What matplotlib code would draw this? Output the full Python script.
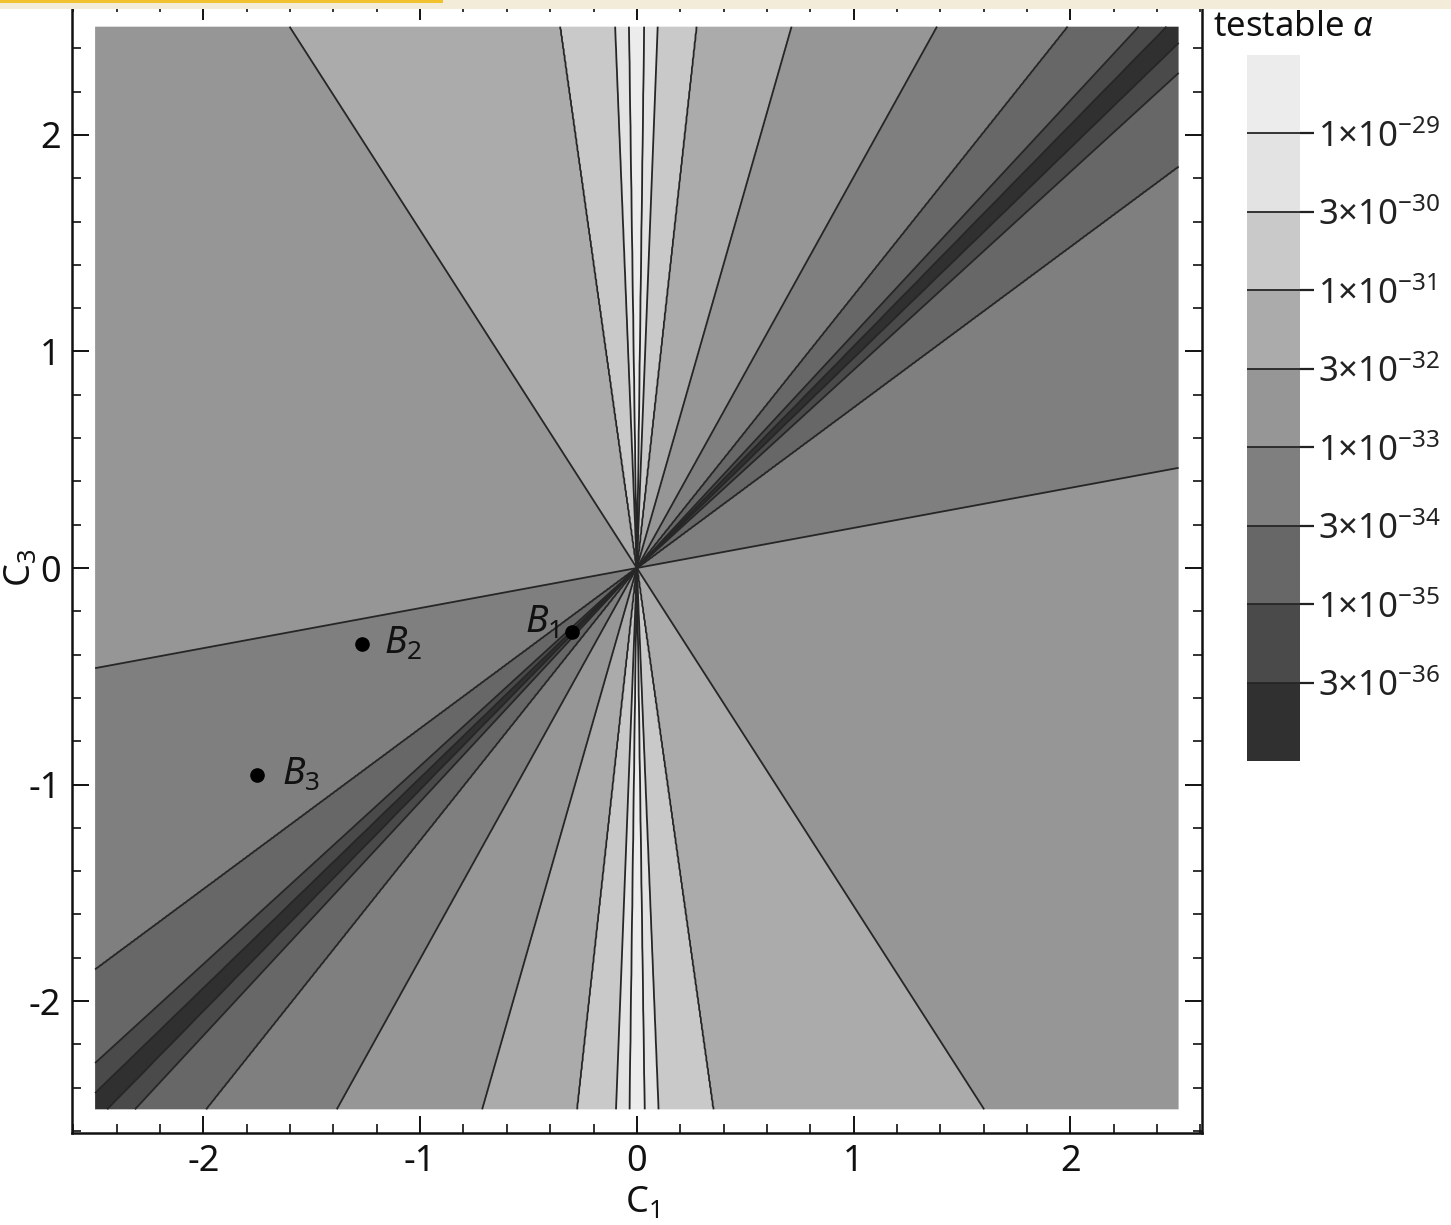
import numpy as np
import matplotlib
matplotlib.use("Agg")
import matplotlib.pyplot as plt
from matplotlib.ticker import MultipleLocator, FixedLocator
from matplotlib.patches import Rectangle

# ---------------- data ----------------
level_values = [3e-36, 1e-35, 3e-34, 1e-33, 3e-32, 1e-31, 3e-30, 1e-29]
level_labels = [r"$3{\times}10^{-36}$", r"$1{\times}10^{-35}$", r"$3{\times}10^{-34}$",
                r"$1{\times}10^{-33}$", r"$3{\times}10^{-32}$", r"$1{\times}10^{-31}$",
                r"$3{\times}10^{-30}$", r"$1{\times}10^{-29}$"]
# slopes C3/C1 of the contour lines (through the origin) for each level,
# on the steep side (A) and on the other side (B) of the C3 = C1 valley
slopes_a = [1.0225, 1.0795, 1.257, 1.806, 3.50, 9.1, 26.0, 75.0]
slopes_b = [0.970, 0.9145, 0.742, 0.185, -1.56, -7.1, -25.0, -70.0]
band_colors = ["#303030", "#4a4a4a", "#676767", "#7f7f7f", "#969696",
               "#ababab", "#c9c9c9", "#e3e3e3", "#ececec"]
point_names = [r"$B_1$", r"$B_2$", r"$B_3$"]
point_c1 = [-0.30, -1.269, -1.753]
point_c3 = [-0.296, -0.351, -0.956]
ticks_major = [-2, -1, 0, 1, 2]

# ---------------- style ----------------
plt.rcParams["font.family"] = ["Noto Sans", "DejaVu Sans"]
plt.rcParams["mathtext.fontset"] = "custom"
plt.rcParams["mathtext.rm"] = "Noto Sans"
plt.rcParams["mathtext.it"] = "Noto Sans:italic"
plt.rcParams["mathtext.bf"] = "Noto Sans:bold"
plt.rcParams["axes.unicode_minus"] = False
plt.rcParams["contour.negative_linestyle"] = "solid"

W, H = 1451, 1225
fig = plt.figure(figsize=(W / 100, H / 100), dpi=100)
fig.patch.set_facecolor("white")

def px_rect(x0, y0, x1, y1):
    return [x0 / W, 1 - y1 / H, (x1 - x0) / W, (y1 - y0) / H]

ax = fig.add_axes(px_rect(71.7, 3.3, 1202, 1132.7))
cax = fig.add_axes(px_rect(1247, 55, 1300, 761))

# ---------------- field (function of direction only) ----------------
n = 1201
g = np.linspace(-2.5, 2.5, n)
C1, C3 = np.meshgrid(g, g)
phi = np.degrees(np.arctan2(C3, C1)) % 180.0
s_a = phi - 45.0
s_b = (45.0 - phi) % 180.0

loglev = list(np.log10(level_values))
lo, hi = loglev[0] - 0.6, loglev[-1] + 0.6
sa_pts = [0.0] + [float(np.degrees(np.arctan(t)) - 45.0) for t in slopes_a] + [45.0]
sb_pts = [0.0] + [float((45.0 - (np.degrees(np.arctan(t)) % 180.0)) % 180.0) for t in slopes_b] + [135.0]
vals = [lo] + loglev + [hi]
field = np.where((phi >= 45.0) & (phi <= 90.0),
                 np.interp(s_a, sa_pts, vals),
                 np.interp(s_b, sb_pts, vals))

fill_levels = [lo - 0.2] + loglev + [hi + 0.2]
cf = ax.contourf(C1, C3, field, levels=fill_levels, colors=band_colors, antialiased=True)
cs = ax.contour(C1, C3, field, levels=loglev, colors="#262626", linewidths=1.3,
                linestyles="solid")

# points
ax.plot(point_c1, point_c3, "o", color="black", markersize=9.5, zorder=5)
offsets = [(-9, 7, "right"), (16, 0, "left"), (18, 0, "left")]
for name, x, y, (dx, dy, ha) in zip(point_names, point_c1, point_c3, offsets):
    ax.annotate(name, (x, y), xytext=(dx, dy), textcoords="offset points",
                ha=ha, va="center", fontsize=27, color="#111111", zorder=6)

ax.set_xlim(-2.608, 2.608)
ax.set_ylim(-2.608, 2.608)
ax.set_facecolor("white")
ax.xaxis.set_major_locator(FixedLocator(ticks_major))
ax.yaxis.set_major_locator(FixedLocator(ticks_major))
ax.xaxis.set_minor_locator(MultipleLocator(0.2))
ax.yaxis.set_minor_locator(MultipleLocator(0.2))
ax.tick_params(which="both", direction="in", top=True, right=True, colors="#111111")
ax.tick_params(which="major", length=12, width=1.4, labelsize=26, pad=8)
ax.tick_params(which="minor", length=6.5, width=1.2)
for sp in ax.spines.values():
    sp.set_linewidth(1.8)
    sp.set_color("#111111")

# axis labels
fig.text(642 / W, 1 - 1221 / H, r"C$_1$", ha="center", va="bottom", fontsize=26, color="#111111")
fig.text(3 / W, 1 - 568 / H, r"C$_3$", ha="left", va="center", rotation=90,
         fontsize=26, color="#111111")

# ---------------- colorbar ----------------
cbar = fig.colorbar(cf, cax=cax)
cbar.outline.set_visible(False)
cbar.set_ticks(loglev)
cbar.set_ticklabels(level_labels)
cbar.add_lines(cs)
cax.tick_params(direction="out", length=10, width=1.6, colors="#222222",
                labelsize=25, pad=3)
cax.minorticks_off()
fig.text(1213 / W, 1 - 27 / H, r"testable $\alpha$", ha="left", va="center",
         fontsize=25, color="#111111")

# screenshot banner at the top
fig.add_artist(Rectangle((0, 1 - 9 / H), 1, 9 / H, transform=fig.transFigure,
                         facecolor="#f3ecd9", edgecolor="none", zorder=10))
fig.add_artist(Rectangle((0, 1 - 3 / H), 443 / W, 3 / H, transform=fig.transFigure,
                         facecolor="#f2c22e", edgecolor="none", zorder=11))

fig.savefig("out.png", dpi=100)
